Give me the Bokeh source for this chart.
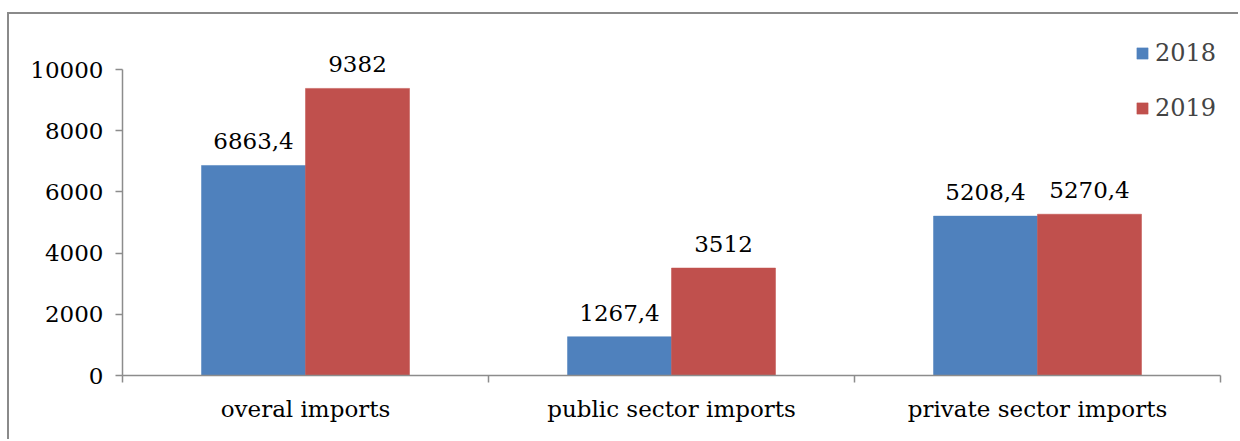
import numpy as np
from bokeh.plotting import figure
from bokeh.models import (Range1d, FixedTicker, Legend, LegendItem, ColumnDataSource)
from bokeh.core.properties import value
from bokeh.embed import file_html
from bokeh.resources import INLINE

categories = ["overal imports", "public sector imports", "private sector imports"]
series_names = ["2018", "2019"]
values_2018 = [6863.4, 1267.4, 5208.4]
values_2019 = [9382, 3512, 5270.4]
y_ticks = [0, 2000, 4000, 6000, 8000, 10000]

colors = ["#4F81BD", "#C0504D"]
FONT = "DejaVu Serif"
FS = "23px"
AX = "#8c8c8c"

n = len(categories)
bw = 104 / 366.0
centers = np.arange(n) + 0.5
y_top = max(y_ticks)
y_end = y_top * 355 / 306.0

p = figure(width=1231, height=427, output_backend="svg", toolbar_location=None,
           x_range=Range1d(0, n), y_range=Range1d(0, y_end),
           min_border_left=113, min_border_right=20, min_border_top=6,
           min_border_bottom=66)
p.styles = {"margin-left": "7px", "margin-top": "12px",
            "border-left": "2px solid #8a8a8a", "border-top": "2px solid #8a8a8a"}
p.outline_line_color = None
p.grid.visible = False
p.background_fill_color = "white"
p.border_fill_color = "white"

renderers = []
for i, (name, vals) in enumerate(zip(series_names, [values_2018, values_2019])):
    xs = centers + (i - 0.5) * bw
    src = ColumnDataSource(dict(x=xs, top=vals,
                                lbl=[("%g" % v).replace(".", ",") for v in vals]))
    r = p.vbar(x="x", top="top", width=bw, bottom=0, source=src,
               fill_color=colors[i], line_color=colors[i], line_width=0.5)
    renderers.append(r)
    p.text(x="x", y="top", text="lbl", source=src, text_align="center",
           text_baseline="alphabetic", y_offset=-24,
           text_font=value(FONT), text_font_size=FS, text_color="black")

# y axis
ya = p.yaxis[0]
ya.ticker = FixedTicker(ticks=y_ticks)
ya.bounds = (0, y_top)
ya.axis_line_color = AX
ya.axis_line_width = 1.5
ya.major_tick_line_color = AX
ya.major_tick_line_width = 1.5
ya.major_tick_out = 7
ya.major_tick_in = 0
ya.minor_tick_line_color = None
ya.major_label_standoff = 12
ya.major_label_text_font = FONT
ya.major_label_text_font_size = FS
ya.major_label_text_color = "black"

# x axis: labels at centers, boundary ticks as minor ticks
xa = p.xaxis[0]
xa.ticker = FixedTicker(ticks=list(centers), minor_ticks=list(range(n + 1)))
xa.major_label_overrides = {float(c): cat for c, cat in zip(centers, categories)}
xa.axis_line_color = AX
xa.axis_line_width = 1.5
xa.major_tick_line_color = None
xa.major_tick_out = 0
xa.major_tick_in = 0
xa.minor_tick_line_color = AX
xa.minor_tick_line_width = 1.5
xa.minor_tick_out = 7
xa.minor_tick_in = 0
xa.major_label_standoff = 13
xa.major_label_text_font = FONT
xa.major_label_text_font_size = FS
xa.major_label_text_color = "black"

legend = Legend(items=[LegendItem(label=nm, renderers=[r]) for nm, r in zip(series_names, renderers)],
                glyph_width=14, glyph_height=14,
                label_standoff=6, spacing=27, padding=0, margin=0,
                border_line_color=None, background_fill_alpha=0,
                label_text_font=FONT, label_text_font_size="24px")
legend.location = (1098 - 85, 355 - 20 - 33 - 60 + 11)
p.add_layout(legend)

open("out.html", "w").write(file_html(p, INLINE))
